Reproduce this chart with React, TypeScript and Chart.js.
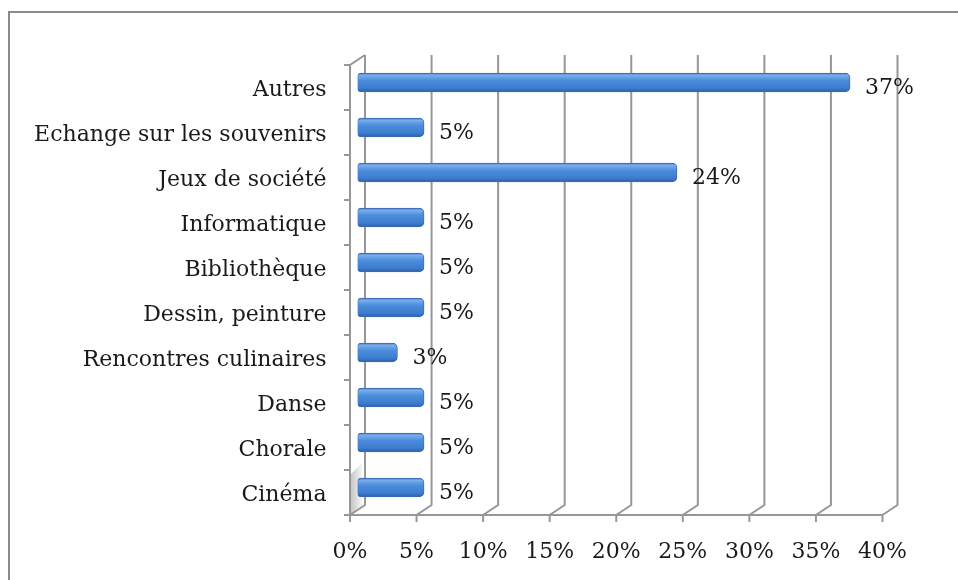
import { useEffect, useRef } from 'react';
import { Chart, registerables } from 'chart.js';

Chart.register(...registerables);

const categories = [
  'Autres',
  'Echange sur les souvenirs',
  'Jeux de société',
  'Informatique',
  'Bibliothèque',
  'Dessin, peinture',
  'Rencontres culinaires',
  'Danse',
  'Chorale',
  'Cinéma',
];
const values = [37, 5, 24, 5, 5, 5, 3, 5, 5, 5];
const xTickStep = 5;
const xMax = 40;

const FONT_FAMILY = '"DejaVu Serif", serif';
const FONT_SIZE = 22;
const TEXT_COLOR = '#1a1a1a';
const GRID_COLOR = '#979797';
const DX = 7.5;
const DY = 5;

const decor = {
  id: 'decor3d',
  beforeDraw(chart: any) {
    const ctx = chart.ctx;
    ctx.save();
    ctx.strokeStyle = '#8a8a8a';
    ctx.lineWidth = 2;
    ctx.strokeRect(9, 12, 2000, 2000);
    ctx.restore();
  },
  beforeDatasetsDraw(chart: any) {
    const { ctx, chartArea: a, scales } = chart;
    const x = scales.x;
    const y = scales.y;
    ctx.save();
    ctx.strokeStyle = GRID_COLOR;
    ctx.lineWidth = 2;
    ctx.lineJoin = 'miter';
    for (let v = 0; v <= xMax; v += xTickStep) {
      const px = x.getPixelForValue(v);
      ctx.beginPath();
      ctx.moveTo(px + DX, a.top - DY);
      ctx.lineTo(px + DX, a.bottom - DY);
      ctx.lineTo(px - DX, a.bottom + DY);
      ctx.lineTo(px - DX, a.bottom + DY + 7);
      ctx.stroke();
    }
    const x0 = x.getPixelForValue(0) - DX;
    const x1 = x.getPixelForValue(xMax) - DX;
    ctx.beginPath();
    ctx.moveTo(x0, a.bottom + DY);
    ctx.lineTo(x1, a.bottom + DY);
    ctx.stroke();
    ctx.beginPath();
    ctx.moveTo(x0 + 2 * DX, a.top - DY);
    ctx.lineTo(x0, a.top + DY);
    ctx.lineTo(x0, a.bottom + DY);
    ctx.stroke();
    const n = categories.length;
    const band = (y.getPixelForValue(n - 1) - y.getPixelForValue(0)) / (n - 1);
    ctx.beginPath();
    for (let i = 0; i <= n; i++) {
      const py = y.getPixelForValue(i) - band / 2 + DY;
      ctx.moveTo(x0 - 6, py);
      ctx.lineTo(x0, py);
    }
    ctx.stroke();
    const sy = y.getPixelForValue(n - 1);
    const g = ctx.createLinearGradient(x0, 0, x0 + 14, 0);
    g.addColorStop(0, 'rgba(120,120,120,0.45)');
    g.addColorStop(1, 'rgba(120,120,120,0)');
    ctx.fillStyle = g;
    ctx.beginPath();
    ctx.moveTo(x0 + 1, sy - band / 2 + DY + 4);
    ctx.lineTo(x0 + 12, sy - band / 2 - 2);
    ctx.lineTo(x0 + 12, a.bottom - DY);
    ctx.lineTo(x0 + 1, a.bottom + DY - 1);
    ctx.closePath();
    ctx.fill();
    ctx.restore();
  },
  afterDatasetsDraw(chart: any) {
    const { ctx } = chart;
    const meta = chart.getDatasetMeta(0);
    ctx.save();
    ctx.font = `${FONT_SIZE}px ${FONT_FAMILY}`;
    ctx.fillStyle = TEXT_COLOR;
    ctx.textAlign = 'left';
    ctx.textBaseline = 'middle';
    meta.data.forEach((bar: any, i: number) => {
      ctx.fillText(`${values[i]}%`, bar.x + 15, bar.y + 6);
    });
    ctx.restore();
  },
};

export default function App() {
  const canvasRef = useRef<HTMLCanvasElement | null>(null);

  useEffect(() => {
    const canvas = canvasRef.current;
    if (!canvas) return;
    const chart = new Chart(canvas, {
      type: 'bar',
      data: {
        labels: categories,
        datasets: [
          {
            data: values,
            barThickness: 19,
            backgroundColor: (c: any) => {
              const ch = c.chart;
              const ys = ch.scales && ch.scales.y;
              if (!ys || !ch.chartArea) return '#4a8ad8';
              const cy = ys.getPixelForValue(c.dataIndex);
              const g = ch.ctx.createLinearGradient(0, cy - 9.5, 0, cy + 9.5);
              g.addColorStop(0, '#3f78c4');
              g.addColorStop(0.12, '#7aaeec');
              g.addColorStop(0.4, '#4b8cdc');
              g.addColorStop(0.8, '#3d7ccd');
              g.addColorStop(1, '#2b5ea6');
              return g;
            },
            borderColor: '#3a6db5',
            borderWidth: 1,
            borderSkipped: false,
            borderRadius: { topLeft: 4, bottomLeft: 4, topRight: 5, bottomRight: 5 },
          },
        ],
      },
      options: {
        indexAxis: 'y',
        responsive: false,
        animation: false,
        devicePixelRatio: 1,
        layout: { padding: { left: 0, top: 60, right: 68, bottom: 0 } },
        plugins: {
          legend: { display: false },
          tooltip: { enabled: false },
          title: { display: false },
        },
        scales: {
          x: {
            type: 'linear',
            min: 0,
            max: xMax,
            border: { display: false },
            grid: { display: false, drawTicks: false },
            ticks: {
              stepSize: xTickStep,
              callback: (v: any) => `${v}%`,
              labelOffset: -DX,
              padding: 29,
              maxRotation: 0,
              color: TEXT_COLOR,
              font: { family: FONT_FAMILY, size: FONT_SIZE },
            },
            afterFit: (s: any) => {
              s.height = 70;
            },
          },
          y: {
            type: 'category',
            border: { display: false },
            grid: { display: false, drawTicks: false },
            ticks: {
              labelOffset: 7.5,
              padding: 31,
              color: TEXT_COLOR,
              font: { family: FONT_FAMILY, size: FONT_SIZE },
            },
            afterFit: (s: any) => {
              s.width = 357.5;
            },
          },
        },
      },
      plugins: [decor],
    });
    return () => chart.destroy();
  }, []);

  return (
    <div style={{ position: 'fixed', left: 0, top: 0, width: 958, height: 580, background: '#fff' }}>
      <canvas ref={canvasRef} width={958} height={580} style={{ width: 958, height: 580, display: 'block' }} />
    </div>
  );
}
